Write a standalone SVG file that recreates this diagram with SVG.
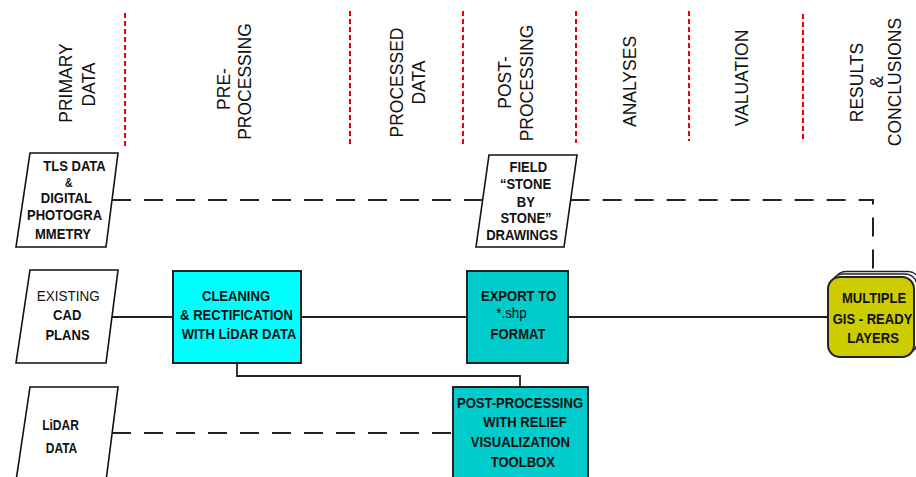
<svg xmlns="http://www.w3.org/2000/svg" width="916" height="477" viewBox="0 0 916 477">
<style>
.hdr{font-family:"Liberation Sans",Arial,sans-serif;font-size:17.5px;fill:#111;text-anchor:middle}
.t{font-family:"Liberation Sans",Arial,sans-serif;font-size:15px;font-weight:bold;fill:#111;text-anchor:middle}
.tn{font-family:"Liberation Sans",Arial,sans-serif;font-size:15px;fill:#111;text-anchor:middle}
.sep{stroke:#e00;stroke-width:2;stroke-dasharray:5 3;fill:none}
.para{fill:#fff;stroke:#111;stroke-width:1.6}
.box{stroke:#222;stroke-width:2}
.solid{stroke:#222;stroke-width:1.8;fill:none}
.dash{stroke:#222;stroke-width:2;fill:none;stroke-dasharray:19 13}
</style>
<rect width="916" height="477" fill="#fff"/>
<g id="separators">
<line class="sep" x1="125" y1="13" x2="125" y2="147"/>
<line class="sep" x1="350" y1="11" x2="350" y2="146"/>
<line class="sep" x1="463" y1="11" x2="463" y2="144"/>
<line class="sep" x1="576" y1="11" x2="576" y2="143"/>
<line class="sep" x1="689" y1="11" x2="689" y2="141"/>
<line class="sep" x1="803" y1="14" x2="803" y2="139"/>
</g>
<g id="headers">
<text class="hdr" transform="translate(72,83) rotate(-90)">PRIMARY</text>
<text class="hdr" transform="translate(95,84.5) rotate(-90)">DATA</text>
<text class="hdr" transform="translate(229.5,89) rotate(-90)">PRE-</text>
<text class="hdr" transform="translate(250.5,81.5) rotate(-90)">PROCESSING</text>
<text class="hdr" transform="translate(403,82.5) rotate(-90)">PROCESSED</text>
<text class="hdr" transform="translate(425,82.5) rotate(-90)">DATA</text>
<text class="hdr" transform="translate(511,82.5) rotate(-90)">POST-</text>
<text class="hdr" transform="translate(533,83) rotate(-90)">PROCESSING</text>
<text class="hdr" transform="translate(636,81.5) rotate(-90)">ANALYSES</text>
<text class="hdr" transform="translate(748,78) rotate(-90)">VALUATION</text>
<text class="hdr" transform="translate(863,82.5) rotate(-90)">RESULTS</text>
<text class="hdr" transform="translate(883,82) rotate(-90)">&amp;</text>
<text class="hdr" transform="translate(901,82) rotate(-90)">CONCLUSIONS</text>
</g>
<g id="connectors">
<line class="dash" x1="112" y1="200" x2="482.6" y2="200"/>
<path class="dash" d="M570.6,200 H873 V271"/>
<line class="solid" x1="112" y1="317" x2="173" y2="317"/>
<line class="solid" x1="301" y1="317" x2="467" y2="317"/>
<line class="solid" x1="568" y1="317" x2="828" y2="317"/>
<line class="dash" x1="112" y1="433" x2="453" y2="433"/>
<path class="solid" d="M237,363 V376 H520 V387"/>
</g>
<g id="tls">
<polygon class="para" points="30,153 118,153 106,247 16,247"/>
<text class="t" transform="translate(74.5,171) scale(0.87,1)">TLS DATA</text>
<text class="t" transform="translate(68.7,187) scale(0.87,1)" style="font-size:12px">&amp;</text>
<text class="t" transform="translate(66.3,202.5) scale(0.87,1)">DIGITAL</text>
<text class="t" transform="translate(64.5,220) scale(0.87,1)">PHOTOGRA</text>
<text class="t" transform="translate(63,238.5) scale(0.87,1)">MMETRY</text>
</g>
<g id="cad">
<polygon class="para" points="30,270 118,270 106,363 16,363"/>
<text class="tn" transform="translate(68.3,300.7) scale(0.9,1)">EXISTING</text>
<text class="t" transform="translate(67.2,320) scale(0.87,1)">CAD</text>
<text class="t" transform="translate(67.5,340) scale(0.87,1)">PLANS</text>
</g>
<g id="lidar">
<polygon class="para" points="30,387 118,387 106,481 16,481"/>
<text class="t" transform="translate(60.5,430) scale(0.8,1)">LiDAR</text>
<text class="t" transform="translate(61.5,453) scale(0.8,1)">DATA</text>
</g>
<g id="field">
<polygon class="para" points="489,155 577,155 564,247 476,247"/>
<text class="t" transform="translate(528.3,172.3) scale(0.87,1)">FIELD</text>
<text class="t" transform="translate(525.5,189.3) scale(0.87,1)">“STONE</text>
<text class="t" transform="translate(525.8,206.7) scale(0.87,1)">BY</text>
<text class="t" transform="translate(526,222.7) scale(0.87,1)">STONE”</text>
<text class="t" transform="translate(522,240) scale(0.87,1)">DRAWINGS</text>
</g>
<g id="cleaning">
<rect class="box" x="173" y="271" width="128" height="92" fill="#00ffff"/>
<text class="t" transform="translate(236,300.5) scale(0.87,1)">CLEANING</text>
<text class="t" transform="translate(236.5,320) scale(0.87,1)">&amp; RECTIFICATION</text>
<text class="t" transform="translate(239,339) scale(0.87,1)">WITH LiDAR DATA</text>
</g>
<g id="export">
<rect class="box" x="467" y="271" width="101" height="92" fill="#00cccc"/>
<text class="t" transform="translate(518.5,300.7) scale(0.87,1)">EXPORT TO</text>
<text class="tn" transform="translate(511.5,318) scale(0.9,1)">*.shp</text>
<text class="t" transform="translate(518,339) scale(0.87,1)">FORMAT</text>
</g>
<g id="postproc">
<rect class="box" x="453" y="387" width="135" height="95" fill="#00cccc"/>
<text class="t" transform="translate(520,408.3) scale(0.87,1)">POST-PROCESSING</text>
<text class="t" transform="translate(525,427.3) scale(0.87,1)">WITH RELIEF</text>
<text class="t" transform="translate(520.3,447.3) scale(0.87,1)">VISUALIZATION</text>
<text class="t" transform="translate(522.8,466.7) scale(0.87,1)">TOOLBOX</text>
</g>
<g id="gis">
<rect x="834" y="271.5" width="86" height="80" rx="12" fill="#fff" stroke="#222" stroke-width="1.3"/>
<rect x="831" y="274" width="86" height="80" rx="12" fill="#fff" stroke="#222" stroke-width="1.3"/>
<rect x="828" y="277" width="86" height="80" rx="12" fill="#cccc00" stroke="#222" stroke-width="2"/>
<text class="t" transform="translate(874,302.7) scale(0.87,1)">MULTIPLE</text>
<text class="t" transform="translate(872.5,324) scale(0.87,1)">GIS - READY</text>
<text class="t" transform="translate(873,343.3) scale(0.87,1)">LAYERS</text>
</g>
</svg>
